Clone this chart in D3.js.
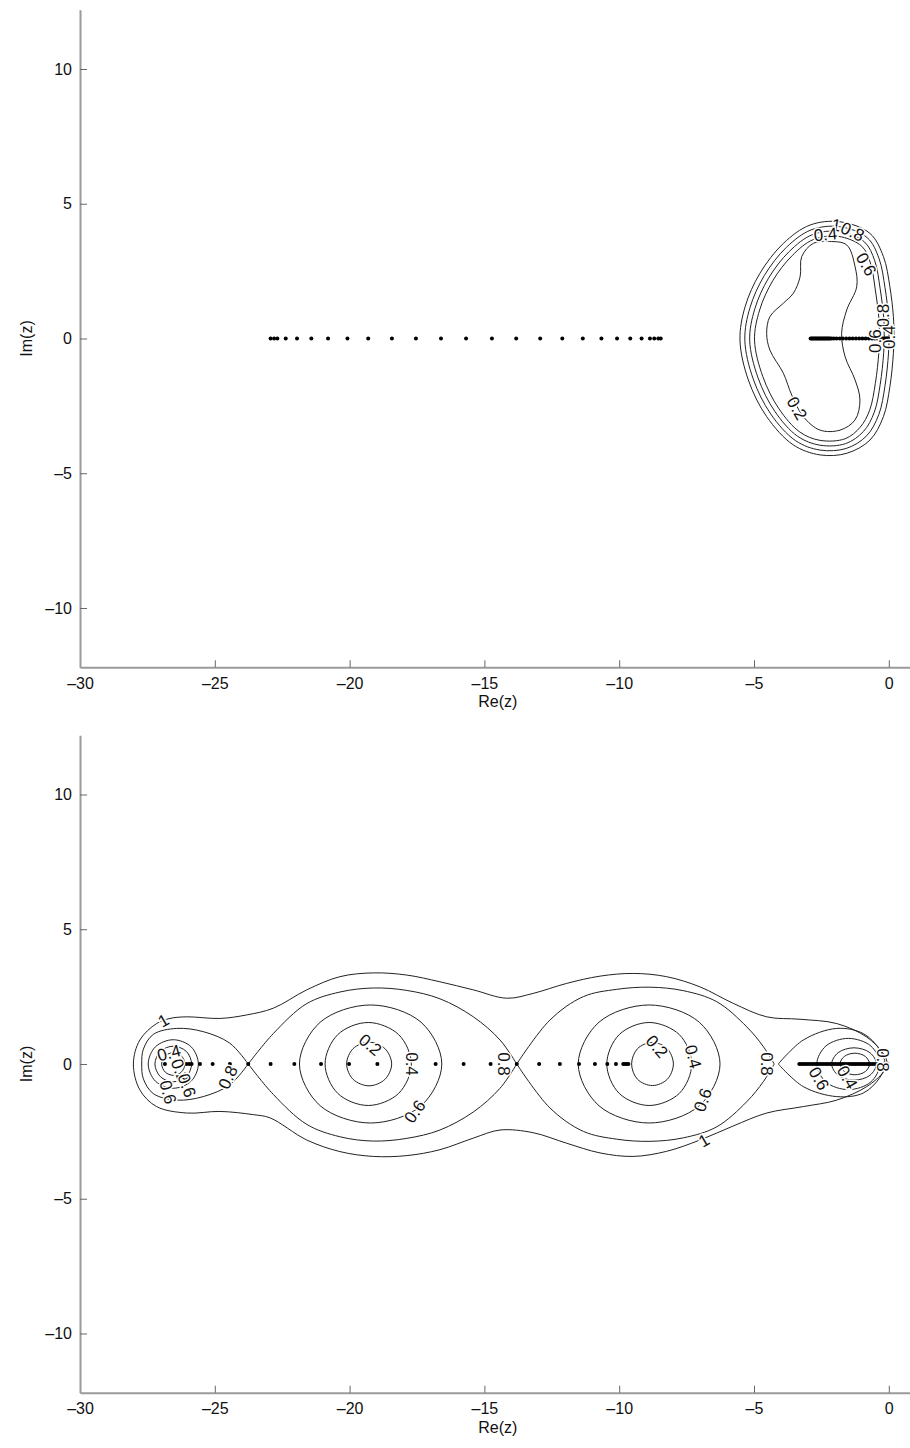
<!DOCTYPE html>
<html>
<head>
<meta charset="utf-8">
<script src="https://cdn.jsdelivr.net/npm/d3@7"></script>
<style>
  body { margin: 0; background: #fff; }
  svg text { font-family: "Liberation Sans", Arial, sans-serif; }
</style>
</head>
<body>
<script>
// ---- data ----
const xTicks = [-30, -25, -20, -15, -10, -5, 0];
const yTicks = [-10, -5, 0, 5, 10];

// top panel: eigenvalues on the real axis
const topDots = [-22.93, -22.80, -22.68, -22.37, -21.95, -21.42, -20.80, -20.08, -19.31, -18.43,
  -17.54, -16.61, -15.68, -14.72, -13.82, -12.93, -12.11, -11.35, -10.66, -10.08,
  -9.59, -9.17, -8.86, -8.70, -8.55, -8.46];
const topDenseDots = [-2.90, -2.86, -2.82, -2.78, -2.74, -2.70, -2.66, -2.62, -2.58, -2.54,
  -2.50, -2.46, -2.42, -2.38, -2.34, -2.30, -2.26, -2.22, -2.18, -2.12, -2.04, -1.94,
  -1.82, -1.70, -1.58, -1.46, -1.34, -1.22, -1.10, -0.98, -0.86, -0.74, -0.62, -0.52,
  -0.42, -0.34, -0.26, -0.20, -0.14, -0.10, -0.06, -0.03];

// top panel contours (closed)
const topLevel1 = [[-1.81, 4.33], [-0.70, 3.90], [-0.20, 3.04], [0.04, 1.92], [0.17, 0.81], [0.19, 0.19],
  [0.17, -0.55], [0.04, -1.79], [-0.20, -2.90], [-0.70, -3.77], [-1.56, -4.26], [-2.55, -4.32],
  [-3.54, -3.95], [-4.53, -2.90], [-5.21, -1.54], [-5.52, -0.06], [-5.33, 1.18], [-4.78, 2.42],
  [-3.91, 3.53], [-2.92, 4.21]];
const topLevel08 = [[-1.83, 4.15], [-0.80, 3.74], [-0.36, 2.96], [-0.14, 1.88], [-0.01, 0.80], [0.01, 0.19],
  [-0.01, -0.54], [-0.14, -1.75], [-0.37, -2.82], [-0.82, -3.61], [-1.58, -4.08], [-2.55, -4.14],
  [-3.46, -3.79], [-4.38, -2.80], [-5.03, -1.50], [-5.34, -0.06], [-5.15, 1.14], [-4.62, 2.33],
  [-3.80, 3.38], [-2.88, 4.03]];
const topLevel06 = [[-1.85, 3.97], [-0.90, 3.58], [-0.52, 2.88], [-0.32, 1.84], [-0.19, 0.79], [-0.17, 0.19],
  [-0.19, -0.53], [-0.32, -1.71], [-0.54, -2.74], [-0.94, -3.45], [-1.60, -3.90], [-2.55, -3.96],
  [-3.38, -3.63], [-4.23, -2.70], [-4.85, -1.46], [-5.16, -0.06], [-4.97, 1.10], [-4.46, 2.24],
  [-3.69, 3.23], [-2.84, 3.85]];
const topLevel04 = [[-1.87, 3.79], [-1.00, 3.42], [-0.68, 2.80], [-0.50, 1.80], [-0.37, 0.78], [-0.35, 0.19],
  [-0.37, -0.52], [-0.50, -1.67], [-0.71, -2.66], [-1.06, -3.29], [-1.62, -3.72], [-2.55, -3.78],
  [-3.30, -3.47], [-4.08, -2.60], [-4.67, -1.42], [-4.98, -0.06], [-4.79, 1.06], [-4.30, 2.15],
  [-3.58, 3.08], [-2.80, 3.67]];
const topLevel02 = [[-2.80, 3.53], [-2.20, 3.60], [-1.56, 3.47], [-1.25, 2.66], [-1.19, 1.92], [-1.56, 1.06],
  [-1.75, 0.19], [-1.62, -0.68], [-1.25, -1.54], [-1.07, -2.28], [-1.25, -3.02], [-1.81, -3.40],
  [-2.55, -3.40], [-3.17, -2.90], [-3.60, -2.10], [-3.91, -1.29], [-4.41, -0.43], [-4.53, 0.19],
  [-4.41, 0.81], [-3.91, 1.31], [-3.54, 1.68], [-3.29, 2.29], [-3.23, 3.04]];

const topLabels = [
  {t: "1", x: -1.95, y: 4.20, r: 10},
  {t: "0.4", x: -2.35, y: 3.85, r: -5},
  {t: "0.8", x: -1.35, y: 3.95, r: 25},
  {t: "0.6", x: -0.85, y: 2.75, r: 60},
  {t: "0.8", x: -0.20, y: 0.85, r: -90},
  {t: "0.6", x: -0.50, y: -0.10, r: -90},
  {t: "0.4", x: 0.02, y: 0.05, r: -90},
  {t: "0.2", x: -3.42, y: -2.60, r: 60}
];

// bottom panel: eigenvalues on the real axis
const botDots = [-26.85, -26.05, -25.95, -25.86, -25.55, -25.08, -24.44, -23.76, -22.93, -22.05,
  -21.06, -20.02, -18.97, -17.88, -16.81, -15.77, -14.77, -13.80, -12.97, -12.20, -11.49,
  -10.90, -10.44, -10.12, -9.85, -9.78, -9.72, -9.66];
const botDenseDots = [-3.32, -3.24, -3.16, -3.08, -3.00, -2.92, -2.84, -2.76, -2.68, -2.60, -2.52,
  -2.44, -2.36, -2.28, -2.20, -2.12, -2.04, -1.96, -1.88, -1.80, -1.72, -1.64, -1.56, -1.48,
  -1.40, -1.32, -1.24, -1.16, -1.08, -1.00, -0.92, -0.84, -0.76, -0.68, -0.60, -0.52, -0.44,
  -0.36, -0.28, -0.20, -0.12, -0.05];

// bottom panel contours
const botLevel1 = [[-28.02, 0.00], [-27.78, 0.89], [-27.16, 1.50], [-26.66, 1.69], [-26.04, 1.75],
  [-24.81, 1.69], [-23.82, 1.82], [-22.83, 2.07], [-21.59, 2.75], [-20.36, 3.24], [-19.12, 3.38],
  [-17.88, 3.30], [-16.65, 3.05], [-15.41, 2.75], [-14.17, 2.44], [-13.19, 2.62], [-11.95, 2.99],
  [-10.71, 3.26], [-9.48, 3.36], [-8.24, 3.24], [-7.00, 2.86], [-5.77, 2.25], [-4.53, 1.75],
  [-3.29, 1.66], [-1.93, 1.50], [-0.82, 1.00], [-0.20, 0.38], [-0.06, 0.00], [-0.20, -0.30],
  [-0.82, -0.84], [-1.93, -1.34], [-3.17, -1.58], [-4.53, -1.82], [-5.77, -2.30], [-7.00, -2.82],
  [-8.24, -3.24], [-9.48, -3.43], [-10.71, -3.30], [-11.95, -2.94], [-13.19, -2.55], [-14.42, -2.45],
  [-15.41, -2.75], [-16.65, -3.18], [-17.88, -3.40], [-19.12, -3.43], [-20.36, -3.25], [-21.59, -2.82],
  [-22.95, -2.00], [-23.57, -1.88], [-24.81, -1.76], [-26.04, -1.82], [-27.16, -1.58], [-27.78, -0.96]];

const bot08Left = [[-23.76, 0.00], [-24.44, 0.77], [-25.43, 1.20], [-26.41, 1.32], [-27.28, 1.10],
  [-27.65, 0.55], [-27.71, 0.00], [-27.65, -0.55], [-27.28, -1.10], [-26.41, -1.34], [-25.43, -1.21],
  [-24.44, -0.77], [-23.76, 0.00]];
const bot08MidLUp = [[-23.76, 0.00], [-22.83, 1.13], [-21.59, 2.24], [-20.36, 2.67], [-19.12, 2.82],
  [-17.88, 2.73], [-16.65, 2.42], [-15.41, 1.75], [-14.42, 0.89], [-13.80, 0.00]];
const bot08MidLDown = [[-23.76, 0.00], [-22.83, -1.13], [-21.59, -2.24], [-20.36, -2.70], [-19.12, -2.86],
  [-17.88, -2.76], [-16.65, -2.45], [-15.41, -1.78], [-14.42, -0.90], [-13.80, 0.00]];
const bot08MidRUp = [[-13.80, 0.00], [-12.57, 1.63], [-11.33, 2.50], [-10.09, 2.77], [-8.86, 2.85],
  [-7.62, 2.72], [-6.38, 2.31], [-5.27, 1.38], [-4.65, 0.64], [-4.25, 0.00]];
const bot08MidRDown = [[-13.80, 0.00], [-12.57, -1.63], [-11.33, -2.50], [-10.09, -2.79], [-8.86, -2.87],
  [-7.62, -2.74], [-6.38, -2.33], [-5.27, -1.40], [-4.65, -0.65], [-4.25, 0.00]];
const bot08Right = [[-4.10, 0.00], [-3.17, 0.89], [-1.93, 1.32], [-0.95, 1.13], [-0.33, 0.52],
  [-0.14, 0.00], [-0.33, -0.50], [-0.95, -1.08], [-1.93, -1.21], [-3.17, -0.84], [-4.10, 0.00]];

const botLeft06 = [[-25.61, 0], [-25.88, 0.64], [-26.54, 0.90], [-27.20, 0.64], [-27.47, 0], [-27.20, -0.64], [-26.54, -0.90], [-25.88, -0.64]];
const botLeft04 = [[-25.86, 0], [-26.06, 0.47], [-26.54, 0.66], [-27.02, 0.47], [-27.22, 0], [-27.02, -0.47], [-26.54, -0.66], [-26.06, -0.47]];
const botLeft02 = [[-26.11, 0], [-26.24, 0.30], [-26.54, 0.42], [-26.84, 0.30], [-26.97, 0], [-26.84, -0.30], [-26.54, -0.42], [-26.24, -0.30]];
const botMidL06 = [[-16.58, 0], [-17.35, 1.55], [-19.22, 2.19], [-21.09, 1.55], [-21.86, 0], [-21.09, -1.55], [-19.22, -2.19], [-17.35, -1.55]];
const botMidL04 = [[-17.71, 0], [-18.18, 1.09], [-19.31, 1.54], [-20.44, 1.09], [-20.91, 0], [-20.44, -1.09], [-19.31, -1.54], [-18.18, -1.09]];
const botMidL02 = [[-18.44, 0], [-18.69, 0.57], [-19.28, 0.81], [-19.87, 0.57], [-20.11, 0], [-19.87, -0.57], [-19.28, -0.81], [-18.69, -0.57]];
const botMidR06 = [[-6.26, 0], [-7.03, 1.55], [-8.89, 2.19], [-10.75, 1.55], [-11.52, 0], [-10.75, -1.55], [-8.89, -2.19], [-7.03, -1.55]];
const botMidR04 = [[-7.31, 0], [-7.77, 1.09], [-8.89, 1.54], [-10.00, 1.09], [-10.46, 0], [-10.00, -1.09], [-8.89, -1.54], [-7.77, -1.09]];
const botMidR02 = [[-7.99, 0], [-8.22, 0.57], [-8.77, 0.80], [-9.32, 0.57], [-9.54, 0], [-9.32, -0.57], [-8.77, -0.80], [-8.22, -0.57]];
const botRight06 = [[-0.33, 0], [-0.67, 0.67], [-1.50, 0.95], [-2.33, 0.67], [-2.67, 0], [-2.33, -0.67], [-1.50, -0.95], [-0.67, -0.67]];
const botRight04 = [[-0.46, 0], [-0.70, 0.42], [-1.29, 0.60], [-1.88, 0.42], [-2.12, 0], [-1.88, -0.42], [-1.29, -0.60], [-0.70, -0.42]];
const botRight02 = [[-0.71, 0], [-0.87, 0.28], [-1.26, 0.40], [-1.65, 0.28], [-1.81, 0], [-1.65, -0.28], [-1.26, -0.40], [-0.87, -0.28]];

const botLabels = [
  {t: "1", x: -26.90, y: 1.60, r: -30},
  {t: "0.4", x: -26.70, y: 0.40, r: -15},
  {t: "0.2", x: -26.30, y: -0.25, r: 70},
  {t: "0.6", x: -26.05, y: -0.80, r: 70},
  {t: "0.6", x: -26.75, y: -1.05, r: 75},
  {t: "0.8", x: -24.50, y: -0.50, r: -65},
  {t: "0.2", x: -19.24, y: 0.70, r: 40},
  {t: "0.4", x: -17.70, y: 0.00, r: 90},
  {t: "0.6", x: -17.57, y: -1.77, r: -55},
  {t: "0.8", x: -14.30, y: 0.00, r: 90},
  {t: "0.2", x: -8.61, y: 0.64, r: 50},
  {t: "0.4", x: -7.27, y: 0.27, r: 75},
  {t: "0.6", x: -6.89, y: -1.34, r: -70},
  {t: "1", x: -6.85, y: -2.85, r: -30},
  {t: "0.8", x: -4.55, y: 0.00, r: 90},
  {t: "0.6", x: -2.60, y: -0.55, r: 60},
  {t: "0.4", x: -1.55, y: -0.50, r: 60},
  {t: "0.8", x: -0.22, y: 0.15, r: 90}
];

// ---- layout ----
let width = 910, height = 1448;
let svg = null;
let x = null;

setupSvg("body");
setupXScale();
drawPanel(9.7, {
  dots: topDots, dense: topDenseDots,
  closed: [topLevel1, topLevel08, topLevel06, topLevel04, topLevel02],
  open: [],
  labels: topLabels
});
drawPanel(735.2, {
  dots: botDots, dense: botDenseDots,
  closed: [botLevel1, botLeft06, botLeft04, botLeft02, botMidL06, botMidL04, botMidL02,
           botMidR06, botMidR04, botMidR02, botRight06, botRight04, botRight02],
  open: [bot08Left, bot08MidLUp, bot08MidLDown, bot08MidRUp, bot08MidRDown, bot08Right],
  labels: botLabels
});

function setupSvg(domElement) {
  svg = d3.select(domElement).append("svg")
    .attr("width", width)
    .attr("height", height);
}

function setupXScale() {
  x = d3.scaleLinear().domain([-30, 1]).range([80, 80 + 31 * 26.96]);
}

function fmt(d) {
  return d < 0 ? "\u2013" + Math.abs(d) : String(d);
}

function drawPanel(top, p) {
  const h = 24.4 * 26.95;
  const y = d3.scaleLinear().domain([-12.2, 12.2]).range([h, 0]);
  const g = svg.append("g").attr("transform", `translate(0, ${top})`);

  // axes
  const ax = g.append("g")
    .attr("transform", `translate(0, ${h})`)
    .call(d3.axisBottom(x).tickValues(xTicks).tickFormat(fmt).tickSize(-7).tickSizeOuter(0).tickPadding(10));
  const ay = g.append("g")
    .attr("transform", `translate(${x(-30)}, 0)`)
    .call(d3.axisLeft(y).tickValues(yTicks).tickFormat(fmt).tickSize(-7).tickSizeOuter(0).tickPadding(8));
  [ax, ay].forEach(a => {
    a.select(".domain").attr("stroke", "#9a9a9a").attr("stroke-width", 2);
    a.selectAll(".tick line").attr("stroke", "#666");
    a.selectAll(".tick text").attr("font-size", 16).attr("fill", "#111")
      .style("font-family", "'Liberation Sans', Arial, sans-serif");
  });

  g.append("text")
    .attr("x", (x(-30) + x(1)) / 2).attr("y", h + 40)
    .attr("text-anchor", "middle").attr("font-size", 16).attr("fill", "#111")
    .text("Re(z)");
  g.append("text")
    .attr("transform", `translate(32, ${y(0)}) rotate(-90)`)
    .attr("text-anchor", "middle").attr("font-size", 16).attr("fill", "#111")
    .text("Im(z)");

  // contours
  const closedLine = d3.line().x(d => x(d[0])).y(d => y(d[1])).curve(d3.curveCatmullRomClosed.alpha(0.5));
  const openLine = d3.line().x(d => x(d[0])).y(d => y(d[1])).curve(d3.curveCatmullRom.alpha(0.5));
  g.selectAll("path.closed").data(p.closed).enter().append("path")
    .attr("class", "closed")
    .attr("d", closedLine)
    .attr("fill", "none").attr("stroke", "#222").attr("stroke-width", 1);
  g.selectAll("path.open").data(p.open).enter().append("path")
    .attr("class", "open")
    .attr("d", openLine)
    .attr("fill", "none").attr("stroke", "#222").attr("stroke-width", 1);

  // eigenvalue dots
  g.selectAll("circle.dot").data(p.dots.concat(p.dense)).enter().append("circle")
    .attr("class", "dot")
    .attr("cx", d => x(d)).attr("cy", y(0)).attr("r", 2)
    .attr("fill", "#000");

  // inline contour labels
  g.selectAll("text.clabel").data(p.labels).enter().append("text")
    .attr("class", "clabel")
    .attr("transform", d => `translate(${x(d.x)}, ${y(d.y)}) rotate(${d.r})`)
    .attr("text-anchor", "middle").attr("dominant-baseline", "central")
    .attr("font-size", 17).attr("fill", "#111")
    .attr("stroke", "#fff").attr("stroke-width", 3).attr("paint-order", "stroke")
    .text(d => d.t);
}
</script>
</body>
</html>
